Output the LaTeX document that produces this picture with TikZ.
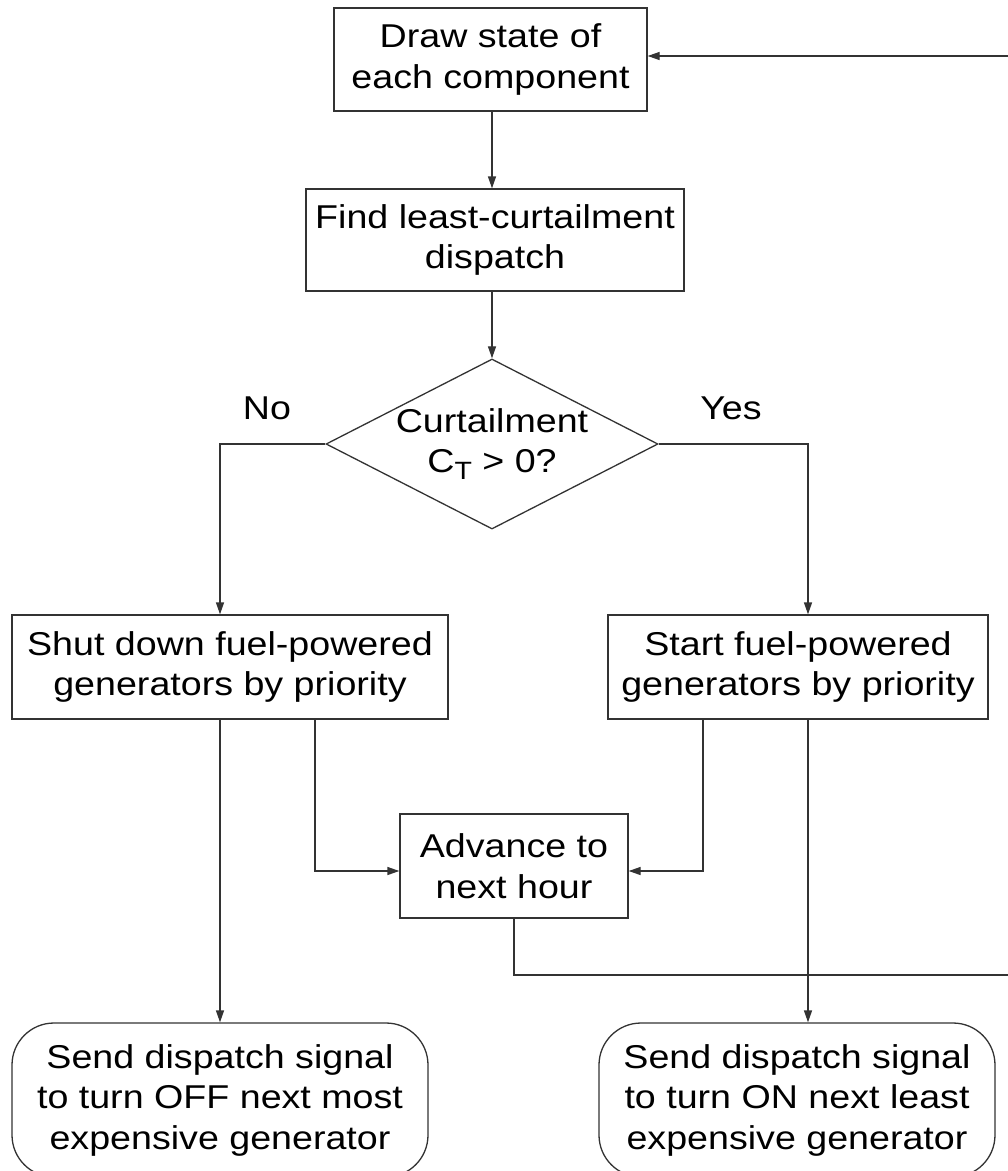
\documentclass[tikz,border=0pt]{standalone}
\usepackage{fontspec}
\setmainfont{Liberation Sans}[FakeStretch=1.14]
\usetikzlibrary{shapes.geometric,arrows.meta}
\definecolor{linec}{HTML}{333333}
\begin{document}
\begin{tikzpicture}[x=1pt,y=-1pt,
  every node/.style={font=\fontsize{33}{40.5}\selectfont, text=black},
  proc/.style={draw=linec, line width=1.3pt, inner sep=0pt, align=center, rectangle},
  term/.style={proc, rounded corners=42pt},
  decide/.style={draw=linec, line width=1.3pt, inner sep=0pt, align=center, diamond, aspect=1.95},
  conn/.style={draw=linec, line width=1.3pt},
  arr/.style={conn, -{Triangle[length=12pt,width=8pt]}}]
\useasboundingbox (0,0) rectangle (1008,1171);
\fill[white] (0,0) rectangle (1008,1171);
\clip (0,0) rectangle (1008,1171);

\node[proc, minimum width=313pt, minimum height=103pt] (b1) at (490.5,59.5) {Draw state of\\each component};
\node[proc, minimum width=378pt, minimum height=102pt] (b2) at (495,240) {Find least-curtailment\\dispatch};
\node[decide, minimum width=332pt, minimum height=170pt] (dec) at (492,444) {Curtailment\\C\raisebox{-7pt}{\fontsize{25}{25}\selectfont T} > 0?};
\node (no) at (267,408) {No};
\node (yes) at (731,408) {Yes};
\node[proc, minimum width=436pt, minimum height=104pt] (b3) at (230,667) {Shut down fuel-powered\\generators by priority};
\node[proc, minimum width=380pt, minimum height=104pt] (b4) at (798,667) {Start fuel-powered\\generators by priority};
\node[proc, minimum width=228pt, minimum height=104pt] (b5) at (514,866) {Advance to\\next hour};
\node[term, minimum width=416pt, minimum height=154pt] (t1) at (220,1100) {Send dispatch signal\\to turn OFF next most\\expensive generator};
\node[term, minimum width=396pt, minimum height=154pt] (t2) at (797,1100) {Send dispatch signal\\to turn ON next least\\expensive generator};

\coordinate (xL) at (220,0);
\coordinate (xLm) at (315,0);
\coordinate (xRm) at (703,0);
\coordinate (xR) at (808,0);
\coordinate (yA) at (0,871);
\coordinate (yTop) at (0,56);
\coordinate (loopR) at (1030,975);

\draw[arr] (b1.south -| dec.north) -- (b2.north -| dec.north);
\draw[arr] (b2.south -| dec.north) -- (dec.north);
\draw[arr] (dec.west) -- (dec.west -| xL) -- (b3.north -| xL);
\draw[arr] (dec.east) -- (dec.east -| xR) -- (b4.north -| xR);
\draw[arr] (b3.south -| xL) -- (t1.north -| xL);
\draw[arr] (b4.south -| xR) -- (t2.north -| xR);
\draw[arr] (b3.south -| xLm) |- (b5.west |- yA);
\draw[arr] (b4.south -| xRm) |- (b5.east |- yA);
\draw[arr] (b5.south) |- (loopR) |- (b1.east |- yTop);
\end{tikzpicture}
\end{document}
